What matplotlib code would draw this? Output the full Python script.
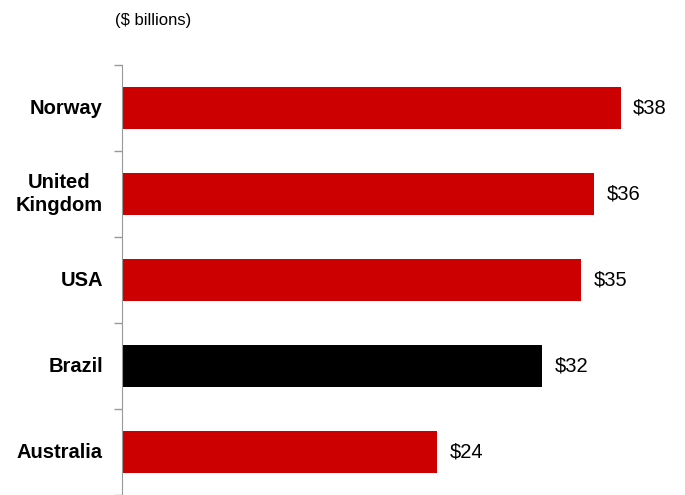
import numpy as np
import matplotlib.pyplot as plt

plt.rcParams['font.family'] = ['Liberation Sans', 'DejaVu Sans']

countries = ['Norway', 'United\nKingdom', 'USA', 'Brazil', 'Australia']
values = [38, 36, 35, 32, 24]
bar_colors = ['#cc0000', '#cc0000', '#cc0000', '#000000', '#cc0000']

fig = plt.figure(figsize=(6.85, 4.95), dpi=100)
ax = fig.add_axes([122 / 685, 0.0, 1 - 122 / 685, (495 - 65) / 495])

y = np.arange(len(countries))
ax.barh(y, values, height=0.49, color=bar_colors)

ax.set_xlim(0, 42.9)
ax.set_ylim(4.49, -0.5)

# category labels on the left, ticks between the bars
for yi, name in zip(y, countries):
    ax.text(-1.45, yi, name, ha='right', va='center', fontsize=14.5,
            fontweight='bold', linespacing=1.25, multialignment='center')
ax.set_yticks(np.arange(len(countries) + 1) - 0.5)
ax.set_yticklabels([])
ax.tick_params(axis='y', length=6, color='#999999', width=1)
ax.set_xticks([])

for spine in ['top', 'right', 'bottom']:
    ax.spines[spine].set_visible(False)
ax.spines['left'].set_color('#999999')

for yi, v in zip(y, values):
    ax.text(v + 0.95, yi, f'${v}', ha='left', va='center', fontsize=14.5)

fig.text(115 / 685, 1 - 20 / 495, '($ billions)', ha='left', va='center',
         fontsize=12)

fig.savefig('out.png', dpi=100)
